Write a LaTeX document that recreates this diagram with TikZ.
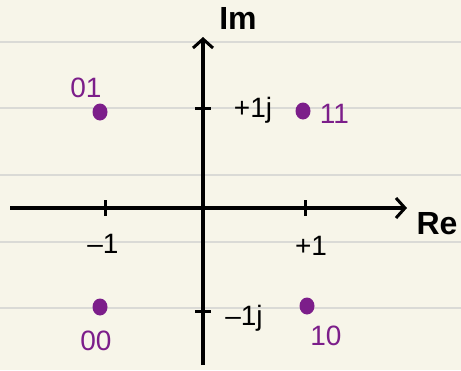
\documentclass[tikz,border=0pt]{standalone}
\usepackage{fontspec}
\setmainfont{Liberation Sans}
\usetikzlibrary{positioning, arrows.meta, shapes.geometric}
\definecolor{paper}{RGB}{247,245,233}
\definecolor{ruling}{RGB}{218,218,214}
\definecolor{sym}{RGB}{124,30,138}

\begin{document}
\begin{tikzpicture}[
    x=1pt, y=-1pt,
    node distance=4pt and 6pt,
    axis/.style={line width=3.5pt, -{Straight Barb[length=9pt, width=20pt, line width=3pt]}},
    tick/.style={line width=3pt},
    dot/.style={ellipse, fill=sym, inner sep=0pt, minimum width=15pt, minimum height=17pt},
    bits/.style={text=sym, inner sep=1pt, font=\fontsize{28}{30}\selectfont},
    val/.style={inner sep=1pt, font=\fontsize{28}{30}\selectfont},
    axname/.style={inner sep=1pt, font=\bfseries\fontsize{32}{34}\selectfont}
]
% paper
\fill[paper] (0,0) rectangle (461,370);
\useasboundingbox (0,0) rectangle (461,370);
\foreach \y in {42,108,175,242,308}
  \draw[ruling, line width=1.5pt] (0,\y) -- (461,\y);

% axes
\coordinate (xl) at (10,208);
\coordinate (xr) at (407,208);
\coordinate (yb) at (203,365);
\coordinate (yt) at (203,37);
\draw[axis] (xl) -- (xr);
\draw[axis] (yb) -- (yt);
\node[axname] (re) at (437,224) {Re};
\node[axname] (im) at (238,18) {Im};

% ticks
\coordinate (rem) at (105,208);
\coordinate (rep) at (305,208);
\coordinate (imp) at (203,108);
\coordinate (imm) at (203,311);
\draw[tick] (rem) +(0,-8) -- +(0,8);
\draw[tick] (rep) +(0,-8) -- +(0,8);
\draw[tick] (imp) +(-8,0) -- +(8,0);
\draw[tick] (imm) +(-8,0) -- +(8,0);
\node[val] (lrem) at (103,244) {–1};
\node[val] (lrep) at (311,246) {+1};
\node[val] (limp) at (253,110) {+1j};
\node[val] (limm) at (244,318) {–1j};

% constellation points
\node[dot] (p01) at (100,112) {};
\node[dot] (p11) at (303,111) {};
\node[dot] (p00) at (100,307) {};
\node[dot] (p10) at (307,306) {};
\node[bits, above=4pt of p01, xshift=-14pt] (b01) {01};
\node[bits, right=8pt of p11, yshift=-3pt] (b11) {11};
\node[bits, below=14pt of p00, xshift=-4pt] (b00) {00};
\node[bits, below=10pt of p10, xshift=19pt] (b10) {10};
\end{tikzpicture}
\end{document}
